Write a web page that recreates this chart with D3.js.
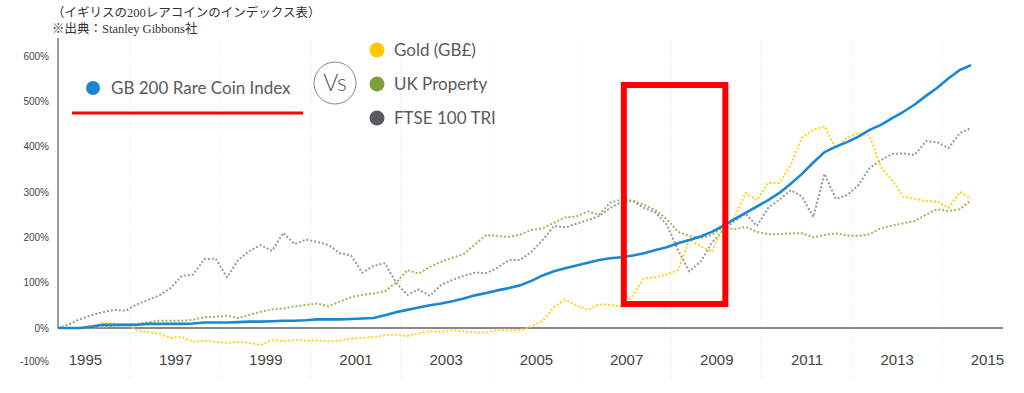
<!DOCTYPE html>
<html lang="ja">
<head>
<meta charset="utf-8">
<title>GB 200 Rare Coin Index vs Gold, UK Property, FTSE 100 TRI</title>
<script src="https://cdn.jsdelivr.net/npm/d3@7"></script>
<style>
  body { margin: 0; background: #fff; }
  svg { display: block; font-family: Lato, "Open Sans", sans-serif; }
</style>
</head>
<body>
<script>
// quarterly time grid (decimal years), mid-1994 .. mid-2014
var dates = d3.range(82).map(function(i) { return 1994.4 + i * 0.25; });

// % change since start
var coinIndex = [0,0,0,3,7,7,7,7,9,9, 9,9,10,12,12,12,13,14,14,15, 16,16,17,19,19,19,20,21,22,28,
  35,40,45,50,54,59,65,72,77,83, 88,94,104,116,125,132,138,144,150,154, 156,160,165,172,178,187,194,202,212,225,
  240,254,268,282,298,318,340,365,388,400, 410,422,437,448,463,477,493,512,530,551, 569,580];
var gold = [0,0,0,2,12,10,8,-6,-12,-18, -30,-27,-42,-38,-42,-45,-42,-45,-52,-36, -40,-36,-38,-38,-40,-38,-32,-30,-28,-22,
  -20,-24,-16,-10,-12,-6,-10,-14,-14,-5, -8,-6,3,16,46,62,50,40,52,51, 47,72,110,112,118,128,195,180,168,223,
  243,298,282,320,320,360,420,437,445,396, 420,430,424,355,325,290,285,280,279,265, 300,286];
var ukProperty = [0,0,0,0,2,5,7,9,13,16, 16,16,18,24,25,27,22,29,36,41, 43,48,51,54,48,58,68,73,76,81,
  100,128,120,135,146,155,163,185,205,203, 201,206,216,220,232,244,246,257,250,277, 283,281,272,260,240,212,203,198,205,222,
  218,223,212,207,207,209,209,200,205,209, 204,203,207,220,226,231,236,250,262,258, 262,282];
var ftse = [0,8,20,28,35,40,38,52,62,72, 88,115,118,152,153,112,150,170,183,170, 210,185,195,190,183,165,160,122,137,143,
  100,73,85,71,95,106,115,122,121,133, 150,150,168,194,225,222,230,238,247,265, 278,280,265,255,228,172,125,146,188,216,
  236,252,225,265,283,304,290,245,340,285, 293,315,353,370,384,385,382,412,410,397, 430,441];

var yTicks = [-100, 0, 100, 200, 300, 400, 500, 600];
var xTicks = [1995, 1997, 1999, 2001, 2003, 2005, 2007, 2009, 2011, 2013, 2015];
var gridYears = [1996, 1998, 2000, 2002, 2004, 2006, 2008, 2010, 2012, 2014];

var legendLeft = ["GB 200 Rare Coin Index"];
var legendRight = ["Gold (GB£)", "UK Property", "FTSE 100 TRI"];

// highlighted period (years) and value range for the red box
var boxYears = [2006.95, 2009.2];
var boxValues = [53, 536];

var w = 1024, h = 393;

var svg = d3.select("body").append("svg")
  .attr("width", w)
  .attr("height", h);

var x = d3.scaleLinear().domain([1994, 2016]).range([39.8, 1032]);
var y = d3.scaleLinear().domain([-100, 0, 600]).range([361, 328, 56]);

// title
svg.append("text")
  .attr("x", 52).attr("y", 17)
  .style("font-family", "'Liberation Serif', 'Noto Sans CJK JP', serif")
  .style("font-size", "12.5px").attr("fill", "#333")
  .text("（イギリスの200レアコインのインデックス表）");
svg.append("text")
  .attr("x", 52).attr("y", 33)
  .style("font-family", "'Liberation Serif', 'Noto Sans CJK JP', serif")
  .style("font-size", "12.5px").attr("fill", "#333")
  .text("※出典：Stanley Gibbons社");

// vertical grid
svg.append("g").selectAll("line")
  .data(gridYears)
  .enter().append("line")
  .attr("x1", function(d) { return x(d); })
  .attr("x2", function(d) { return x(d); })
  .attr("y1", 40).attr("y2", 378)
  .attr("stroke", "#e2e2e2")
  .attr("stroke-dasharray", "1,2");

// y axis
var yAxis = svg.append("g")
  .attr("transform", "translate(58,0)")
  .call(d3.axisLeft(y).tickValues(yTicks).tickSize(0).tickPadding(9)
    .tickFormat(function(d) { return d + "%"; }));
yAxis.select(".domain").remove();
yAxis.selectAll("text").style("font-size", "10px").attr("fill", "#444");

svg.append("line")
  .attr("x1", 58).attr("x2", 58)
  .attr("y1", 38).attr("y2", y(0))
  .attr("stroke", "#777").attr("stroke-width", 1.5);

// x axis
var xAxis = svg.append("g")
  .attr("transform", "translate(0," + y(0) + ")")
  .call(d3.axisBottom(x).tickValues(xTicks).tickSize(0).tickFormat(d3.format("d")));
xAxis.select(".domain").remove();
xAxis.selectAll("text")
  .attr("y", 37).attr("dy", null)
  .style("font-size", "15px").attr("fill", "#444");

svg.append("line")
  .attr("x1", 58).attr("x2", 1003)
  .attr("y1", y(0)).attr("y2", y(0))
  .attr("stroke", "#888").attr("stroke-width", 2);

// lines
var line = d3.line()
  .x(function(d, i) { return x(dates[i]); })
  .y(function(d) { return y(d); });

var series = [
  { values: ftse, color: "#9a9a9a", dash: "2,2", width: 2 },
  { values: ukProperty, color: "#9cb95a", dash: "2,2", width: 2 },
  { values: gold, color: "#ffd21a", dash: "2,2", width: 2 },
  { values: coinIndex, color: "#1a87d2", dash: null, width: 2.6 }
];

svg.append("g").selectAll("path")
  .data(series)
  .enter().append("path")
  .attr("d", function(d) { return line(d.values); })
  .attr("fill", "none")
  .attr("stroke", function(d) { return d.color; })
  .attr("stroke-width", function(d) { return d.width; })
  .attr("stroke-dasharray", function(d) { return d.dash; })
  .attr("stroke-linejoin", "round");

// red box
svg.append("rect")
  .attr("x", x(boxYears[0]))
  .attr("y", y(boxValues[1]))
  .attr("width", x(boxYears[1]) - x(boxYears[0]))
  .attr("height", y(boxValues[0]) - y(boxValues[1]))
  .attr("fill", "none")
  .attr("stroke", "#ff0000")
  .attr("stroke-width", 6);

// legend left
svg.append("circle").attr("cx", 93).attr("cy", 88).attr("r", 7).attr("fill", "#1a87d2");
svg.append("text")
  .attr("x", 111).attr("y", 94)
  .style("font-size", "17px").attr("fill", "#5a5a5a")
  .text(legendLeft[0]);
svg.append("line")
  .attr("x1", 72).attr("x2", 303)
  .attr("y1", 113).attr("y2", 113)
  .attr("stroke", "#ff0000").attr("stroke-width", 3);

// Vs
svg.append("circle").attr("cx", 335).attr("cy", 83).attr("r", 21)
  .attr("fill", "#fff").attr("stroke", "#888").attr("stroke-width", 1);
svg.append("text")
  .attr("x", 335).attr("y", 91)
  .attr("text-anchor", "middle")
  .style("font-size", "23px").style("font-weight", 300).attr("fill", "#555")
  .text("Vs");

// legend right
var legendColors = ["#ffc800", "#7e9f3e", "#585a63"];
var lg = svg.append("g").selectAll("g")
  .data(legendRight)
  .enter().append("g")
  .attr("transform", function(d, i) { return "translate(377," + (50 + i * 34) + ")"; });
lg.append("circle").attr("r", 7.5).attr("fill", function(d, i) { return legendColors[i]; });
lg.append("text")
  .attr("x", 17).attr("y", 6)
  .style("font-size", "17px").attr("fill", "#5a5a5a")
  .text(function(d) { return d; });
</script>
</body>
</html>
